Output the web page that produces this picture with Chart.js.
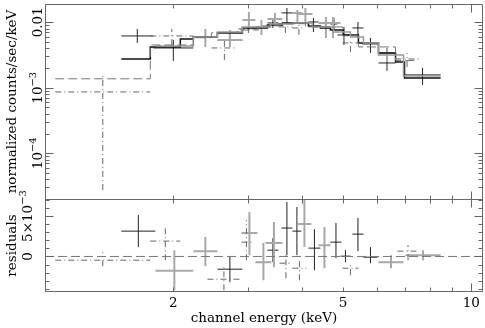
<!DOCTYPE html>
<html>
<head>
<meta charset="utf-8">
<script src="https://cdn.jsdelivr.net/npm/chart.js@4.4.1/dist/chart.umd.min.js"></script>
<style>
  html, body { margin: 0; padding: 0; background: #fff; }
</style>
</head>
<body>
<canvas id="spec" width="485" height="328"></canvas>
<script>
// axis limits
const xMin = 1.0, xMax = 10.65;
const yMin = 2.0e-5, yMax = 0.019;
const rMin = -4.39, rMax = 7.1;   // residuals, units of 1e-3

const xTickVals = [1, 2, 3, 4, 5, 6, 7, 8, 9, 10];
const xLabelVals = [2, 5, 10];
const yLabelVals = [1e-2, 1e-3, 1e-4];
const yLabelText = [['0.01', ''], ['10', '−3'], ['10', '−4']];
const rLabelVals = [5, 0];
const rLabelText = [['5×10', '−3'], ['0', '']];

// group 1 (black) - normalized counts/sec/keV
const g1Lo = [1.510, 1.795, 2.537, 3.324, 3.585, 4.148, 4.672, 4.853, 5.262, 5.554, 6.056, 6.970];
const g1Hi = [1.795, 2.228, 2.904, 3.528, 3.805, 4.379, 4.853, 5.205, 5.584, 6.056, 6.640, 8.471];
const g1Val = [0.00618, 0.00405, 0.0053, 0.00976, 0.0139, 0.0101, 0.00942, 0.0064, 0.00818, 0.00466, 0.00239, 0.00157];
const g1ErrLo = [0.00483, 0.00257, 0.0045, 0.00818, 0.00976, 0.00711, 0.0076, 0.0045, 0.00576, 0.0034, 0.00181, 0.0011];
const g1ErrHi = [0.0079, 0.00537, 0.0061, 0.0112, 0.0165, 0.0116, 0.0116, 0.00848, 0.0101, 0.00576, 0.00317, 0.00201];
const m1Edges = [1.510, 1.766, 2.077, 2.228, 2.537, 2.904, 3.324, 3.605, 4.148, 4.426, 4.672, 5.012, 5.435, 6.056, 6.640, 6.970, 8.471];
const m1Vals = [0.00275, 0.0042, 0.00556, 0.00596, 0.00686, 0.00818, 0.00909, 0.00976, 0.00878, 0.00818, 0.00763, 0.0064, 0.00483, 0.0034, 0.00248, 0.00141];
const r1Lo = [1.510, 2.537, 3.324, 3.585, 3.805, 4.148, 4.672, 4.932, 5.262, 5.584];
const r1Hi = [1.815, 2.904, 3.528, 3.805, 3.994, 4.426, 4.959, 5.205, 5.584, 6.023];
const r1Val = [3.13, -1.57, 0.78, 3.51, 3.13, 1.03, 1.77, 0.04, 2.76, -0.09];
const r1ErrLo = [1.16, -3.18, -0.71, 0.16, 0.16, -1.70, -0.21, -0.71, 0.66, -0.83];
const r1ErrHi = [5.12, 0.04, 2.27, 6.73, 6.11, 3.38, 4.13, 0.78, 4.75, 1.16];

// group 2 (grey)
const g2Lo = [2.228, 2.537, 2.904, 3.065, 3.324, 3.805, 3.930, 4.379, 4.548, 6.056];
const g2Hi = [2.537, 2.904, 3.115, 3.379, 3.605, 4.016, 4.239, 4.748, 4.932, 6.640];
const g2Val = [0.00596, 0.00537, 0.0108, 0.00848, 0.0112, 0.0139, 0.0134, 0.00976, 0.00976, 0.0034];
const g2ErrLo = [0.0042, 0.0042, 0.00763, 0.0064, 0.00909, 0.0101, 0.0101, 0.00576, 0.00576, 0.00248];
const g2ErrHi = [0.0079, 0.00763, 0.0144, 0.0108, 0.0139, 0.0154, 0.0165, 0.012, 0.012, 0.00405];
const m2Edges = [1.815, 2.228, 2.537, 2.904, 3.379, 3.805, 4.239, 4.748, 5.205, 5.584, 6.056, 6.933, 8.471];
const m2Vals = [0.00435, 0.00596, 0.00711, 0.00848, 0.00942, 0.00976, 0.00848, 0.00711, 0.00596, 0.00483, 0.00317, 0.00151];
const r2Lo = [1.815, 2.228, 2.889, 3.115, 3.289, 3.909, 4.379, 6.056, 7.008];
const r2Hi = [2.228, 2.537, 3.149, 3.397, 3.605, 4.216, 4.672, 6.933, 8.471];
const r2Val = [-1.78, 0.66, 2.89, -0.71, 1.65, 4.0, 1.4, -0.71, 0.16];
const r2ErrLo = [-4.18, -1.21, 0.16, -2.94, -1.33, 1.16, -1.45, -1.45, -0.46];
const r2ErrHi = [0.78, 2.39, 5.49, 1.65, 4.25, 6.98, 3.63, 0.16, 0.78];

// group 3 (dash-dot)
const g3Lo = [1.057, 1.766, 2.456, 2.842, 3.528, 3.805, 4.985, 6.640];
const g3Hi = [1.766, 2.228, 2.827, 3.166, 3.805, 4.082, 5.435, 7.519];
const g3Val = [0.000863, 0.00618, 0.00405, 0.0079, 0.00848, 0.00818, 0.00483, 0.00275];
const g3ErrLo = [0.0000275, 0.0045, 0.00266, 0.00686, 0.00686, 0.0064, 0.00352, 0.00208];
const g3ErrHi = [0.00151, 0.0079, 0.00537, 0.00909, 0.00976, 0.00942, 0.00537, 0.0034];
const m3Edges = [1.057, 1.766, 2.228, 2.456, 2.827, 3.166, 3.528, 4.082, 4.985, 5.435, 6.640, 7.519];
const m3Vals = [0.00137, 0.0045, 0.0058, 0.0069, 0.0076, 0.0088, 0.0095, 0.0085, 0.0062, 0.0042, 0.0026];
const r3Lo = [1.057, 1.766, 2.404, 2.889, 3.547, 3.805, 4.985, 6.712];
const r3Hi = [1.766, 2.077, 2.873, 3.049, 3.805, 4.104, 5.435, 7.519];
const r3Val = [-0.46, 1.9, -2.81, 1.77, -0.83, -1.45, -1.45, 0.66];
const r3ErrLo = [-1.21, -0.46, -4.18, -0.46, -2.69, -2.94, -2.32, -0.46];
const r3ErrHi = [0.53, 3.88, -1.21, 4.5, 0.41, -0.21, -0.71, 1.4];

const font = '13.5px "DejaVu Serif"';
const supFont = '10px "DejaVu Serif"';
const dashDot = [6, 3, 1, 3];

// bin crosses: horizontal bar over the bin, vertical bar at its log centre
function crosses(lo, hi, val, eLo, eHi) {
  const pts = [];
  lo.forEach((e, i) => {
    const mid = Math.sqrt(lo[i] * hi[i]);
    pts.push({ x: lo[i], y: val[i] }, { x: hi[i], y: val[i] }, { x: hi[i], y: null });
    pts.push({ x: mid, y: eLo[i] }, { x: mid, y: eHi[i] }, { x: mid, y: null });
  });
  return pts;
}

function steps(edges, vals) {
  const pts = [];
  vals.forEach((v, i) => {
    pts.push({ x: edges[i], y: v }, { x: edges[i + 1], y: v });
  });
  return pts;
}

function series(data, axis, color, width, dash) {
  return {
    data: data,
    yAxisID: axis,
    borderColor: color,
    borderWidth: width,
    borderDash: dash || [],
    pointRadius: 0,
    fill: false,
    spanGaps: false,
    tension: 0,
  };
}

function vLabel(ctx, parts, x, y) {
  ctx.save();
  ctx.translate(x, y);
  ctx.rotate(-Math.PI / 2);
  ctx.font = font;
  const w1 = ctx.measureText(parts[0]).width;
  ctx.font = supFont;
  const w2 = parts[1] ? ctx.measureText(parts[1]).width : 0;
  const start = -(w1 + w2) / 2;
  ctx.textAlign = 'left';
  ctx.textBaseline = 'alphabetic';
  ctx.font = font;
  ctx.fillText(parts[0], start, 0);
  if (parts[1]) {
    ctx.font = supFont;
    ctx.fillText(parts[1], start + w1, -6);
  }
  ctx.restore();
}

const panelDeco = {
  id: 'panelDeco',
  afterDatasetsDraw(chart) {
    const { ctx } = chart;
    const { x, y, yr } = chart.scales;
    const L = Math.round(x.left) + 0.5;
    const R = Math.round(x.right) - 0.5;
    const top = Math.round(y.top) + 0.5;
    const mid = Math.round(y.bottom) + 0.5;
    const bot = Math.round(yr.bottom) - 0.5;
    ctx.save();
    ctx.strokeStyle = '#666';
    ctx.lineWidth = 1;
    ctx.beginPath();
    ctx.rect(L, top, R - L, bot - top);
    ctx.moveTo(L, mid); ctx.lineTo(R, mid);
    xTickVals.forEach((v) => {
      const px = Math.round(x.getPixelForValue(v)) + 0.5;
      const len = v === 1 || v === 10 ? 8 : 4;
      ctx.moveTo(px, top); ctx.lineTo(px, top + len);
      ctx.moveTo(px, mid - len); ctx.lineTo(px, mid + len);
      ctx.moveTo(px, bot); ctx.lineTo(px, bot - len);
    });
    for (let d = -5; d <= -2; d++) {
      for (let m = 1; m <= 9; m++) {
        const v = m * Math.pow(10, d);
        if (v < yMin || v > yMax) continue;
        const py = Math.round(y.getPixelForValue(v)) + 0.5;
        const len = m === 1 ? 8 : 4;
        ctx.moveTo(L, py); ctx.lineTo(L + len, py);
        ctx.moveTo(R, py); ctx.lineTo(R - len, py);
      }
    }
    for (let k = -4; k <= 7; k++) {
      const py = Math.round(yr.getPixelForValue(k)) + 0.5;
      const len = k % 5 === 0 ? 8 : 4;
      ctx.moveTo(L, py); ctx.lineTo(L + len, py);
      ctx.moveTo(R, py); ctx.lineTo(R - len, py);
    }
    ctx.stroke();

    ctx.fillStyle = '#000';
    yLabelVals.forEach((v, i) => vLabel(ctx, yLabelText[i], 42, y.getPixelForValue(v)));
    rLabelVals.forEach((v, i) => vLabel(ctx, rLabelText[i], 32, yr.getPixelForValue(v)));
    vLabel(ctx, ['normalized counts/sec/keV', ''], 16, (y.top + y.bottom) / 2);
    vLabel(ctx, ['residuals', ''], 16, (yr.top + yr.bottom) / 2);

    ctx.font = font;
    ctx.textAlign = 'center';
    ctx.textBaseline = 'middle';
    xLabelVals.forEach((v) => ctx.fillText(String(v), x.getPixelForValue(v), 303));
    ctx.fillText('channel energy (keV)', 264, 318);
    ctx.restore();
  },
};

new Chart(document.getElementById('spec'), {
  type: 'line',
  data: {
    datasets: [
      series([{ x: xMin, y: 0 }, { x: xMax, y: 0 }], 'yr', '#777', 1, [9, 4]),
      series(steps(m3Edges, m3Vals), 'y', '#777', 1, [9, 4]),
      series(steps(m2Edges, m2Vals), 'y', '#9a9a9a', 1.5),
      series(steps(m1Edges, m1Vals), 'y', '#111', 1.5),
      series(crosses(g3Lo, g3Hi, g3Val, g3ErrLo, g3ErrHi), 'y', '#666', 1, dashDot),
      series(crosses(g2Lo, g2Hi, g2Val, g2ErrLo, g2ErrHi), 'y', '#a8a8a8', 2),
      series(crosses(g1Lo, g1Hi, g1Val, g1ErrLo, g1ErrHi), 'y', '#222', 1),
      series(crosses(r3Lo, r3Hi, r3Val, r3ErrLo, r3ErrHi), 'yr', '#666', 1, dashDot),
      series(crosses(r2Lo, r2Hi, r2Val, r2ErrLo, r2ErrHi), 'yr', '#a8a8a8', 2),
      series(crosses(r1Lo, r1Hi, r1Val, r1ErrLo, r1ErrHi), 'yr', '#222', 1),
    ],
  },
  options: {
    responsive: false,
    animation: false,
    layout: { padding: { left: 45, right: 2, top: 4, bottom: 36 } },
    scales: {
      x: { type: 'logarithmic', min: xMin, max: xMax, display: false },
      y: {
        type: 'logarithmic', min: yMin, max: yMax, display: false,
        position: 'left', stack: 'panels', stackWeight: 195, weight: 1,
      },
      yr: {
        type: 'linear', min: rMin, max: rMax, display: false,
        position: 'left', stack: 'panels', stackWeight: 93, weight: 0,
      },
    },
    plugins: { legend: { display: false }, tooltip: { enabled: false } },
  },
  plugins: [panelDeco],
});
</script>
</body>
</html>
